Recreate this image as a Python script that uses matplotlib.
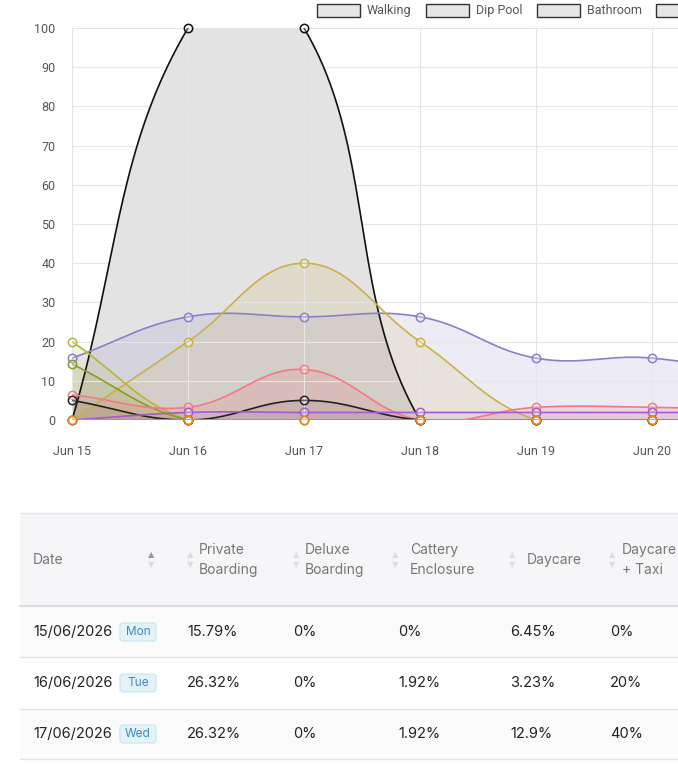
import matplotlib
matplotlib.use("Agg")
import matplotlib.pyplot as plt
import numpy as np
from matplotlib.patches import Rectangle, FancyBboxPatch

days = ["Jun 15", "Jun 16", "Jun 17", "Jun 18", "Jun 19", "Jun 20", "Jun 21"]
walking = [0, 100, 100, 0, 0, 0, 0]
private_boarding = [15.79, 26.32, 26.32, 26.32, 15.79, 15.79, 10.53]
daycare_taxi = [0, 20, 40, 20, 0, 0, 0]
daycare = [6.45, 3.23, 12.9, 0, 3.23, 3.23, 2.5]
cattery = [0, 1.92, 1.92, 1.92, 1.92, 1.92, 1.92]
olive = [20, 0, 0, 0, 0, 0, 0]
green = [14.29, 0, 0, 0, 0, 0, 0]
dark = [5, 0, 5, 0, 0, 0, 0]
deluxe = [0, 0, 0, 0, 0, 0, 0]

legend_labels = ["Walking", "Dip Pool", "Bathroom"]

table_header = ["Date", "Private\nBoarding", "Deluxe\nBoarding", "Cattery\nEnclosure", "Daycare", "Daycare\n+ Taxi"]
table_dates = ["15/06/2026", "16/06/2026", "17/06/2026"]
table_days = ["Mon", "Tue", "Wed"]
table_rows = [
    ["15.79%", "0%", "0%", "6.45%", "0%"],
    ["26.32%", "0%", "1.92%", "3.23%", "20%"],
    ["26.32%", "0%", "1.92%", "12.9%", "40%"],
]

W, H = 678, 765
XPX, YPX = 116.0, 3.92


def spline(xs, ys, tension=0.4, n=40):
    xs = np.asarray(xs, float); ys = np.asarray(ys, float)
    px, py = xs * XPX, ys * YPX
    cps = []
    for i in range(len(xs)):
        p0 = (px[max(i - 1, 0)], py[max(i - 1, 0)])
        p2 = (px[min(i + 1, len(xs) - 1)], py[min(i + 1, len(xs) - 1)])
        d01 = np.hypot(px[i] - p0[0], py[i] - p0[1])
        d12 = np.hypot(p2[0] - px[i], p2[1] - py[i])
        tot = d01 + d12
        s01 = d01 / tot if tot else 0
        s12 = d12 / tot if tot else 0
        dx, dy = p2[0] - p0[0], p2[1] - p0[1]
        cps.append(((px[i] - tension * s01 * dx, py[i] - tension * s01 * dy),
                    (px[i] + tension * s12 * dx, py[i] + tension * s12 * dy)))
    outx, outy = [], []
    t = np.linspace(0, 1, n)[:, None]
    for i in range(len(xs) - 1):
        a = np.array([px[i], py[i]]); d = np.array([px[i + 1], py[i + 1]])
        b = np.array(cps[i][1]); c = np.array(cps[i + 1][0])
        pts = (1 - t) ** 3 * a + 3 * (1 - t) ** 2 * t * b + 3 * (1 - t) * t ** 2 * c + t ** 3 * d
        outx.extend(pts[:, 0] / XPX); outy.extend(pts[:, 1] / YPX)
    return np.array(outx), np.array(outy)


fig = plt.figure(figsize=(W / 100, H / 100), dpi=100)
ax = fig.add_axes([72 / W, 1 - 420 / H, (678 - 72) / W, 392 / H])
x = np.arange(len(days))

series = [
    (walking, "#111111", "#d8d8d8", 0.7),
    (private_boarding, "#8a80c8", "#8a80c8", 0.15),
    (daycare_taxi, "#c9b14a", "#c9b14a", 0.15),
    (olive, "#b5b53a", "#b5b53a", 0.15),
    (green, "#8a9a2a", "#8a9a2a", 0.15),
    (daycare, "#f07a86", "#f07a86", 0.2),
    (dark, "#222222", "#555555", 0.1),
    (cattery, "#a45cc8", "#a45cc8", 0.1),
    (deluxe, "#e8891e", "#e8891e", 0.2),
]
for vals, lc, fc, alpha in series:
    sx, sy = spline(x, vals)
    ax.fill_between(sx, 0, sy, color=fc, alpha=alpha, lw=0)
    ax.plot(sx, sy, color=lc, lw=1.2 if lc != "#e8891e" else 2)
    ax.plot(x, vals, "o", mfc=(1, 1, 1, 0.3), mec=lc, ms=6, mew=1.1, clip_on=False)

ax.set_xlim(0, (678 - 72) / XPX)
ax.set_ylim(0, 100)
ax.set_yticks(range(0, 101, 10))
ax.set_xticks(x[:6])
ax.set_xticklabels(days[:6])
ax.grid(color="#e6e6e6", lw=0.8)
for s in ax.spines.values():
    s.set_visible(False)
ax.tick_params(length=0, labelsize=9, colors="#555555", pad=18)
ax.tick_params(axis="y", pad=12)
for lab in ax.get_xticklabels() + ax.get_yticklabels():
    lab.set_fontfamily("Roboto")

# overlay axes in pixel coordinates
ov = fig.add_axes([0, 0, 1, 1], zorder=-1)
ov.set_xlim(0, W); ov.set_ylim(H, 0); ov.axis("off")
top = fig.add_axes([0, 0, 1, 1], zorder=5)
top.set_xlim(0, W); top.set_ylim(H, 0); top.axis("off")

for lx, lab in zip([317, 426, 537], legend_labels):
    top.add_patch(Rectangle((lx, 4), 43, 13, fc="#e6e6e6", ec="#333333", lw=1))
    top.text(lx + 50, 10.5, lab, fontsize=9, color="#555555", va="center", family="Roboto")
top.add_patch(Rectangle((656, 4), 43, 13, fc="#e6e6e6", ec="#333333", lw=1))

tf = "Inter"
ov.add_patch(Rectangle((20, 513), 660, 93, fc="#f6f6f8", ec="none"))
ov.plot([20, 678], [513, 513], color="#e4e4e8", lw=1)
ov.plot([20, 678], [606, 606], color="#dcdce0", lw=1.5)
for yy in [657, 709, 759]:
    ov.plot([20, 678], [yy, yy], color="#e4e4e8", lw=1)
for y0, y1 in [(606, 657), (709, 759)]:
    ov.add_patch(Rectangle((20, y0), 660, y1 - y0, fc="#fbfbfb", ec="none"))

hx = [33, 199, 305, 410, 527, 622]
ax_arrows = [151, 190, 296, 395, 512, 612]
for i, (h, tx, arx) in enumerate(zip(table_header, hx, ax_arrows)):
    top.text(tx, 560, h, fontsize=10, color="#777777", va="center", family=tf, linespacing=1.6)
    c_up = "#999999" if i == 0 else "#dddddd"
    top.text(arx, 555, "▲", fontsize=6, color=c_up, ha="center", va="center", family="DejaVu Sans")
    top.text(arx, 565, "▼", fontsize=6, color="#dddddd", ha="center", va="center", family="DejaVu Sans")

vx = [187, 293, 398, 510, 610]
for r, (d, wd, row) in enumerate(zip(table_dates, table_days, table_rows)):
    yc = 632 + r * 51
    top.text(33, yc, d, fontsize=10.5, color="#222222", va="center", family=tf)
    top.add_patch(FancyBboxPatch((120, yc - 9), 36, 18, boxstyle="round,pad=0,rounding_size=3",
                                 fc="#e4f3f9", ec="#c8e6f0", lw=0.8))
    top.text(138, yc, wd, fontsize=8.5, color="#3b8bb5", ha="center", va="center", family=tf)
    for v, xx in zip(row, vx):
        top.text(xx, yc, v, fontsize=10.5, color="#222222", va="center", family=tf)

fig.savefig("out.png", dpi=100)
